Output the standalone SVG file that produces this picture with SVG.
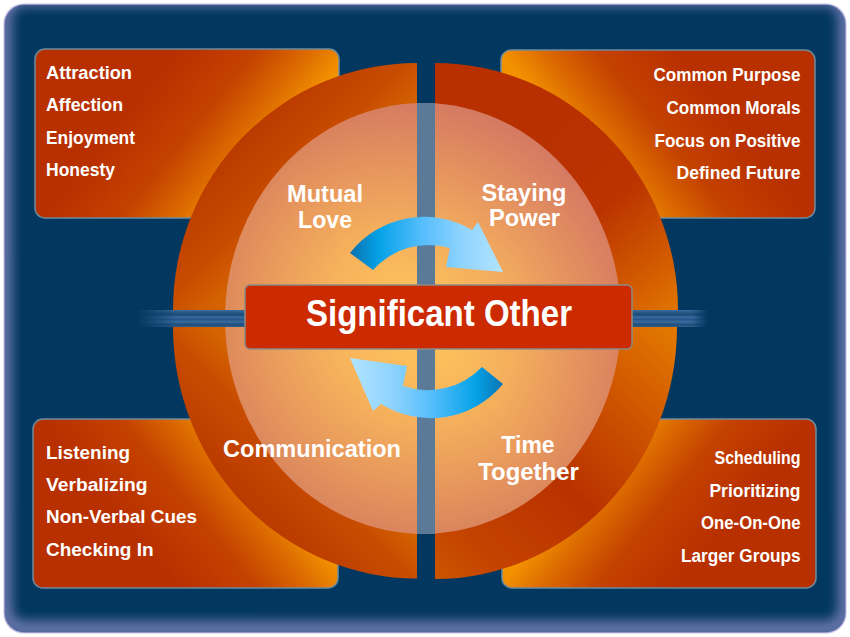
<svg xmlns="http://www.w3.org/2000/svg" width="850" height="637" viewBox="0 0 850 637">
<defs>
<style>
.item{font-family:"Liberation Sans",Arial,sans-serif;font-weight:bold;font-size:18px;fill:#fff}
.end{text-anchor:end}
.lbl{font-family:"Liberation Sans",Arial,sans-serif;font-weight:bold;font-size:23px;fill:#fff;text-anchor:middle}
.title{font-family:"Liberation Sans",Arial,sans-serif;font-weight:bold;font-size:36px;fill:#fff;text-anchor:middle}
.box{stroke:#6d8c9e;stroke-width:1.5}
.gap{fill:#5b7a98}
</style>
<clipPath id="panelClip"><rect x="4" y="4" width="842" height="629" rx="20"/></clipPath>
<clipPath id="innerClip"><ellipse cx="423" cy="318.5" rx="198" ry="215.5"/></clipPath>
<filter id="blur6" x="-10%" y="-10%" width="120%" height="120%"><feGaussianBlur stdDeviation="6"/></filter>
<linearGradient id="gTL" gradientUnits="userSpaceOnUse" x1="133" y1="105" x2="240" y2="191">
<stop offset="0" stop-color="#b83000"/><stop offset="0.45" stop-color="#c44200"/><stop offset="0.75" stop-color="#dc6a00"/><stop offset="1" stop-color="#f39200"/></linearGradient>
<linearGradient id="gTR" gradientUnits="userSpaceOnUse" x1="719" y1="105" x2="612" y2="191">
<stop offset="0" stop-color="#b83000"/><stop offset="0.45" stop-color="#c44200"/><stop offset="0.75" stop-color="#dc6a00"/><stop offset="1" stop-color="#f39200"/></linearGradient>
<linearGradient id="gBL" gradientUnits="userSpaceOnUse" x1="133" y1="532" x2="240" y2="446">
<stop offset="0" stop-color="#b83000"/><stop offset="0.45" stop-color="#c44200"/><stop offset="0.75" stop-color="#dc6a00"/><stop offset="1" stop-color="#f39200"/></linearGradient>
<linearGradient id="gBR" gradientUnits="userSpaceOnUse" x1="719" y1="532" x2="612" y2="446">
<stop offset="0" stop-color="#b83000"/><stop offset="0.45" stop-color="#c44200"/><stop offset="0.75" stop-color="#dc6a00"/><stop offset="1" stop-color="#f39200"/></linearGradient>
<linearGradient id="rTL" gradientUnits="userSpaceOnUse" x1="417" y1="310" x2="243" y2="136">
<stop offset="0" stop-color="#dc7000"/><stop offset="0.6" stop-color="#d46200"/><stop offset="0.74" stop-color="#c84c00"/><stop offset="1" stop-color="#bb3a00"/></linearGradient>
<linearGradient id="rBL" gradientUnits="userSpaceOnUse" x1="417" y1="327" x2="243" y2="501">
<stop offset="0" stop-color="#dc7000"/><stop offset="0.6" stop-color="#d46200"/><stop offset="0.74" stop-color="#c84c00"/><stop offset="1" stop-color="#bb3a00"/></linearGradient>
<linearGradient id="rTR" gradientUnits="userSpaceOnUse" x1="520" y1="130" x2="680" y2="320">
<stop offset="0" stop-color="#b83000"/><stop offset="0.45" stop-color="#ba3300"/><stop offset="0.8" stop-color="#d45e00"/><stop offset="1" stop-color="#e47a00"/></linearGradient>
<linearGradient id="rBR" gradientUnits="userSpaceOnUse" x1="680" y1="330" x2="440" y2="580">
<stop offset="0" stop-color="#e47a00"/><stop offset="0.3" stop-color="#cc5000"/><stop offset="0.55" stop-color="#b83200"/><stop offset="0.85" stop-color="#c44200"/><stop offset="1" stop-color="#cc5400"/></linearGradient>
<radialGradient id="inner" gradientUnits="userSpaceOnUse" cx="426" cy="318" r="215">
<stop offset="0" stop-color="#ffc85a"/><stop offset="0.45" stop-color="#f7b35c"/><stop offset="0.8" stop-color="#e6965c"/><stop offset="1" stop-color="#da855e"/></radialGradient>
<linearGradient id="pink" gradientUnits="userSpaceOnUse" x1="430" y1="330" x2="610" y2="170">
<stop offset="0" stop-color="#c05070" stop-opacity="0"/><stop offset="1" stop-color="#c05070" stop-opacity="0.3"/></linearGradient>
<linearGradient id="beam" x1="0" y1="0" x2="0" y2="1">
<stop offset="0" stop-color="#3b6d9e"/><stop offset="0.12" stop-color="#2a5b8b"/><stop offset="0.3" stop-color="#1d4a78"/><stop offset="0.42" stop-color="#3a6e9f"/><stop offset="0.55" stop-color="#24558a"/><stop offset="0.7" stop-color="#3a6c9c"/><stop offset="0.85" stop-color="#1f4d7c"/><stop offset="1" stop-color="#2c5e8e"/></linearGradient>
<linearGradient id="fadeL" x1="0" y1="0" x2="1" y2="0">
<stop offset="0" stop-color="#02375f" stop-opacity="1"/><stop offset="1" stop-color="#02375f" stop-opacity="0"/></linearGradient>
<linearGradient id="fadeR" x1="0" y1="0" x2="1" y2="0">
<stop offset="0" stop-color="#02375f" stop-opacity="0"/><stop offset="1" stop-color="#02375f" stop-opacity="1"/></linearGradient>
<linearGradient id="arrTop" gradientUnits="userSpaceOnUse" x1="352" y1="262" x2="503" y2="262">
<stop offset="0" stop-color="#0a74b2"/><stop offset="0.18" stop-color="#05a2e8"/><stop offset="0.45" stop-color="#52bcfb"/><stop offset="0.72" stop-color="#8ed3ff"/><stop offset="1" stop-color="#b2e4ff"/></linearGradient>
<linearGradient id="arrBot" gradientUnits="userSpaceOnUse" x1="503" y1="375" x2="350" y2="375">
<stop offset="0" stop-color="#0a74b2"/><stop offset="0.18" stop-color="#05a2e8"/><stop offset="0.45" stop-color="#52bcfb"/><stop offset="0.72" stop-color="#8ed3ff"/><stop offset="1" stop-color="#b2e4ff"/></linearGradient>
</defs>

<rect width="850" height="637" fill="#ffffff"/>

<g id="panel">
<rect x="4" y="4" width="842" height="629" rx="20" fill="#02375f" stroke="#d6d2ec" stroke-width="1.5"/>
<g clip-path="url(#panelClip)">
<rect x="4" y="-2" width="842" height="631" rx="20" fill="none" stroke="#8c8cc8" stroke-width="16" opacity="0.75" filter="url(#blur6)"/>
</g>
</g>

<g id="box-top-left">
<rect class="box" x="35" y="49" width="304" height="169" rx="10" fill="url(#gTL)"/>
<text class="item" x="46" y="79" textLength="86" lengthAdjust="spacingAndGlyphs">Attraction</text>
<text class="item" x="46" y="111" textLength="77" lengthAdjust="spacingAndGlyphs">Affection</text>
<text class="item" x="46" y="144" textLength="89" lengthAdjust="spacingAndGlyphs">Enjoyment</text>
<text class="item" x="46" y="176" textLength="69" lengthAdjust="spacingAndGlyphs">Honesty</text>
</g>
<g id="box-top-right">
<rect class="box" x="501" y="50" width="314" height="168" rx="10" fill="url(#gTR)"/>
<text class="item end" x="800.5" y="81" textLength="147" lengthAdjust="spacingAndGlyphs">Common Purpose</text>
<text class="item end" x="800.5" y="114" textLength="134" lengthAdjust="spacingAndGlyphs">Common Morals</text>
<text class="item end" x="800.5" y="146.5" textLength="146" lengthAdjust="spacingAndGlyphs">Focus on Positive</text>
<text class="item end" x="800.5" y="179" textLength="124" lengthAdjust="spacingAndGlyphs">Defined Future</text>
</g>
<g id="box-bottom-left">
<rect class="box" x="33" y="419" width="305" height="169" rx="10" fill="url(#gBL)"/>
<text class="item" x="46" y="458.5" textLength="84" lengthAdjust="spacingAndGlyphs">Listening</text>
<text class="item" x="46" y="490.5" textLength="101.5" lengthAdjust="spacingAndGlyphs">Verbalizing</text>
<text class="item" x="46" y="523" textLength="151" lengthAdjust="spacingAndGlyphs">Non-Verbal Cues</text>
<text class="item" x="46" y="555.5" textLength="107.5" lengthAdjust="spacingAndGlyphs">Checking In</text>
</g>
<g id="box-bottom-right">
<rect class="box" x="502" y="419" width="314" height="169" rx="10" fill="url(#gBR)"/>
<text class="item end" x="800.5" y="464" textLength="86" lengthAdjust="spacingAndGlyphs">Scheduling</text>
<text class="item end" x="800.5" y="497" textLength="91" lengthAdjust="spacingAndGlyphs">Prioritizing</text>
<text class="item end" x="800.5" y="529" textLength="99.5" lengthAdjust="spacingAndGlyphs">One-On-One</text>
<text class="item end" x="800.5" y="562" textLength="119.5" lengthAdjust="spacingAndGlyphs">Larger Groups</text>
</g>

<g id="ring">
<path d="M417,310 L173,310 A244,247 0 0 1 417,63 Z" fill="url(#rTL)"/>
<path d="M435,310 L435,63 A243,247 0 0 1 678,310 Z" fill="url(#rTR)"/>
<path d="M417,327 L417,578.5 A244,251.5 0 0 1 173,327 Z" fill="url(#rBL)"/>
<path d="M435,327 L677,327 A242,252 0 0 1 435,579 Z" fill="url(#rBR)"/>
</g>

<g id="inner-circle">
<ellipse cx="423" cy="318.5" rx="198" ry="215.5" fill="url(#inner)"/>
<ellipse cx="423" cy="318.5" rx="198" ry="215.5" fill="url(#pink)"/>
<rect class="gap" x="417" y="100" width="18" height="440" clip-path="url(#innerClip)"/>
</g>

<g id="beams">
<rect x="137" y="310" width="110" height="17" fill="url(#beam)"/>
<rect x="137" y="310" width="40" height="17" fill="url(#fadeL)"/>
<rect x="630" y="310" width="77" height="17" fill="url(#beam)"/>
<rect x="692" y="310" width="16" height="17" fill="url(#fadeR)"/>
</g>

<g id="connectors">
<path d="M350,253 A94,94 0 0 1 472,230 L478,222 L503,272 L446,267 L450,248 A75,75 0 0 0 373,270 Z" fill="url(#arrTop)"/>
<path d="M503,384 A94,94 0 0 1 381,404 L373,411 L350,358 L407,366 L403,386 A75,75 0 0 0 482,367 Z" fill="url(#arrBot)"/>
</g>

<g id="label-mutual-love">
<text class="lbl" x="325" y="202" textLength="76" lengthAdjust="spacingAndGlyphs">Mutual</text>
<text class="lbl" x="325" y="228" textLength="54" lengthAdjust="spacingAndGlyphs">Love</text>
</g>
<g id="label-staying-power">
<text class="lbl" x="524" y="201" textLength="85" lengthAdjust="spacingAndGlyphs">Staying</text>
<text class="lbl" x="524.5" y="226" textLength="71" lengthAdjust="spacingAndGlyphs">Power</text>
</g>
<g id="label-communication">
<text class="lbl" x="312" y="457" textLength="178" lengthAdjust="spacingAndGlyphs">Communication</text>
</g>
<g id="label-time-together">
<text class="lbl" x="528" y="453">Time</text>
<text class="lbl" x="528.5" y="479.5" textLength="100.5" lengthAdjust="spacingAndGlyphs">Together</text>
</g>

<g id="center">
<rect x="245" y="285" width="387" height="64" rx="5" fill="#cc2a00" stroke="#8c8a86" stroke-width="1.5"/>
<text class="title" x="439" y="326" textLength="266" lengthAdjust="spacingAndGlyphs">Significant Other</text>
</g>
</svg>
